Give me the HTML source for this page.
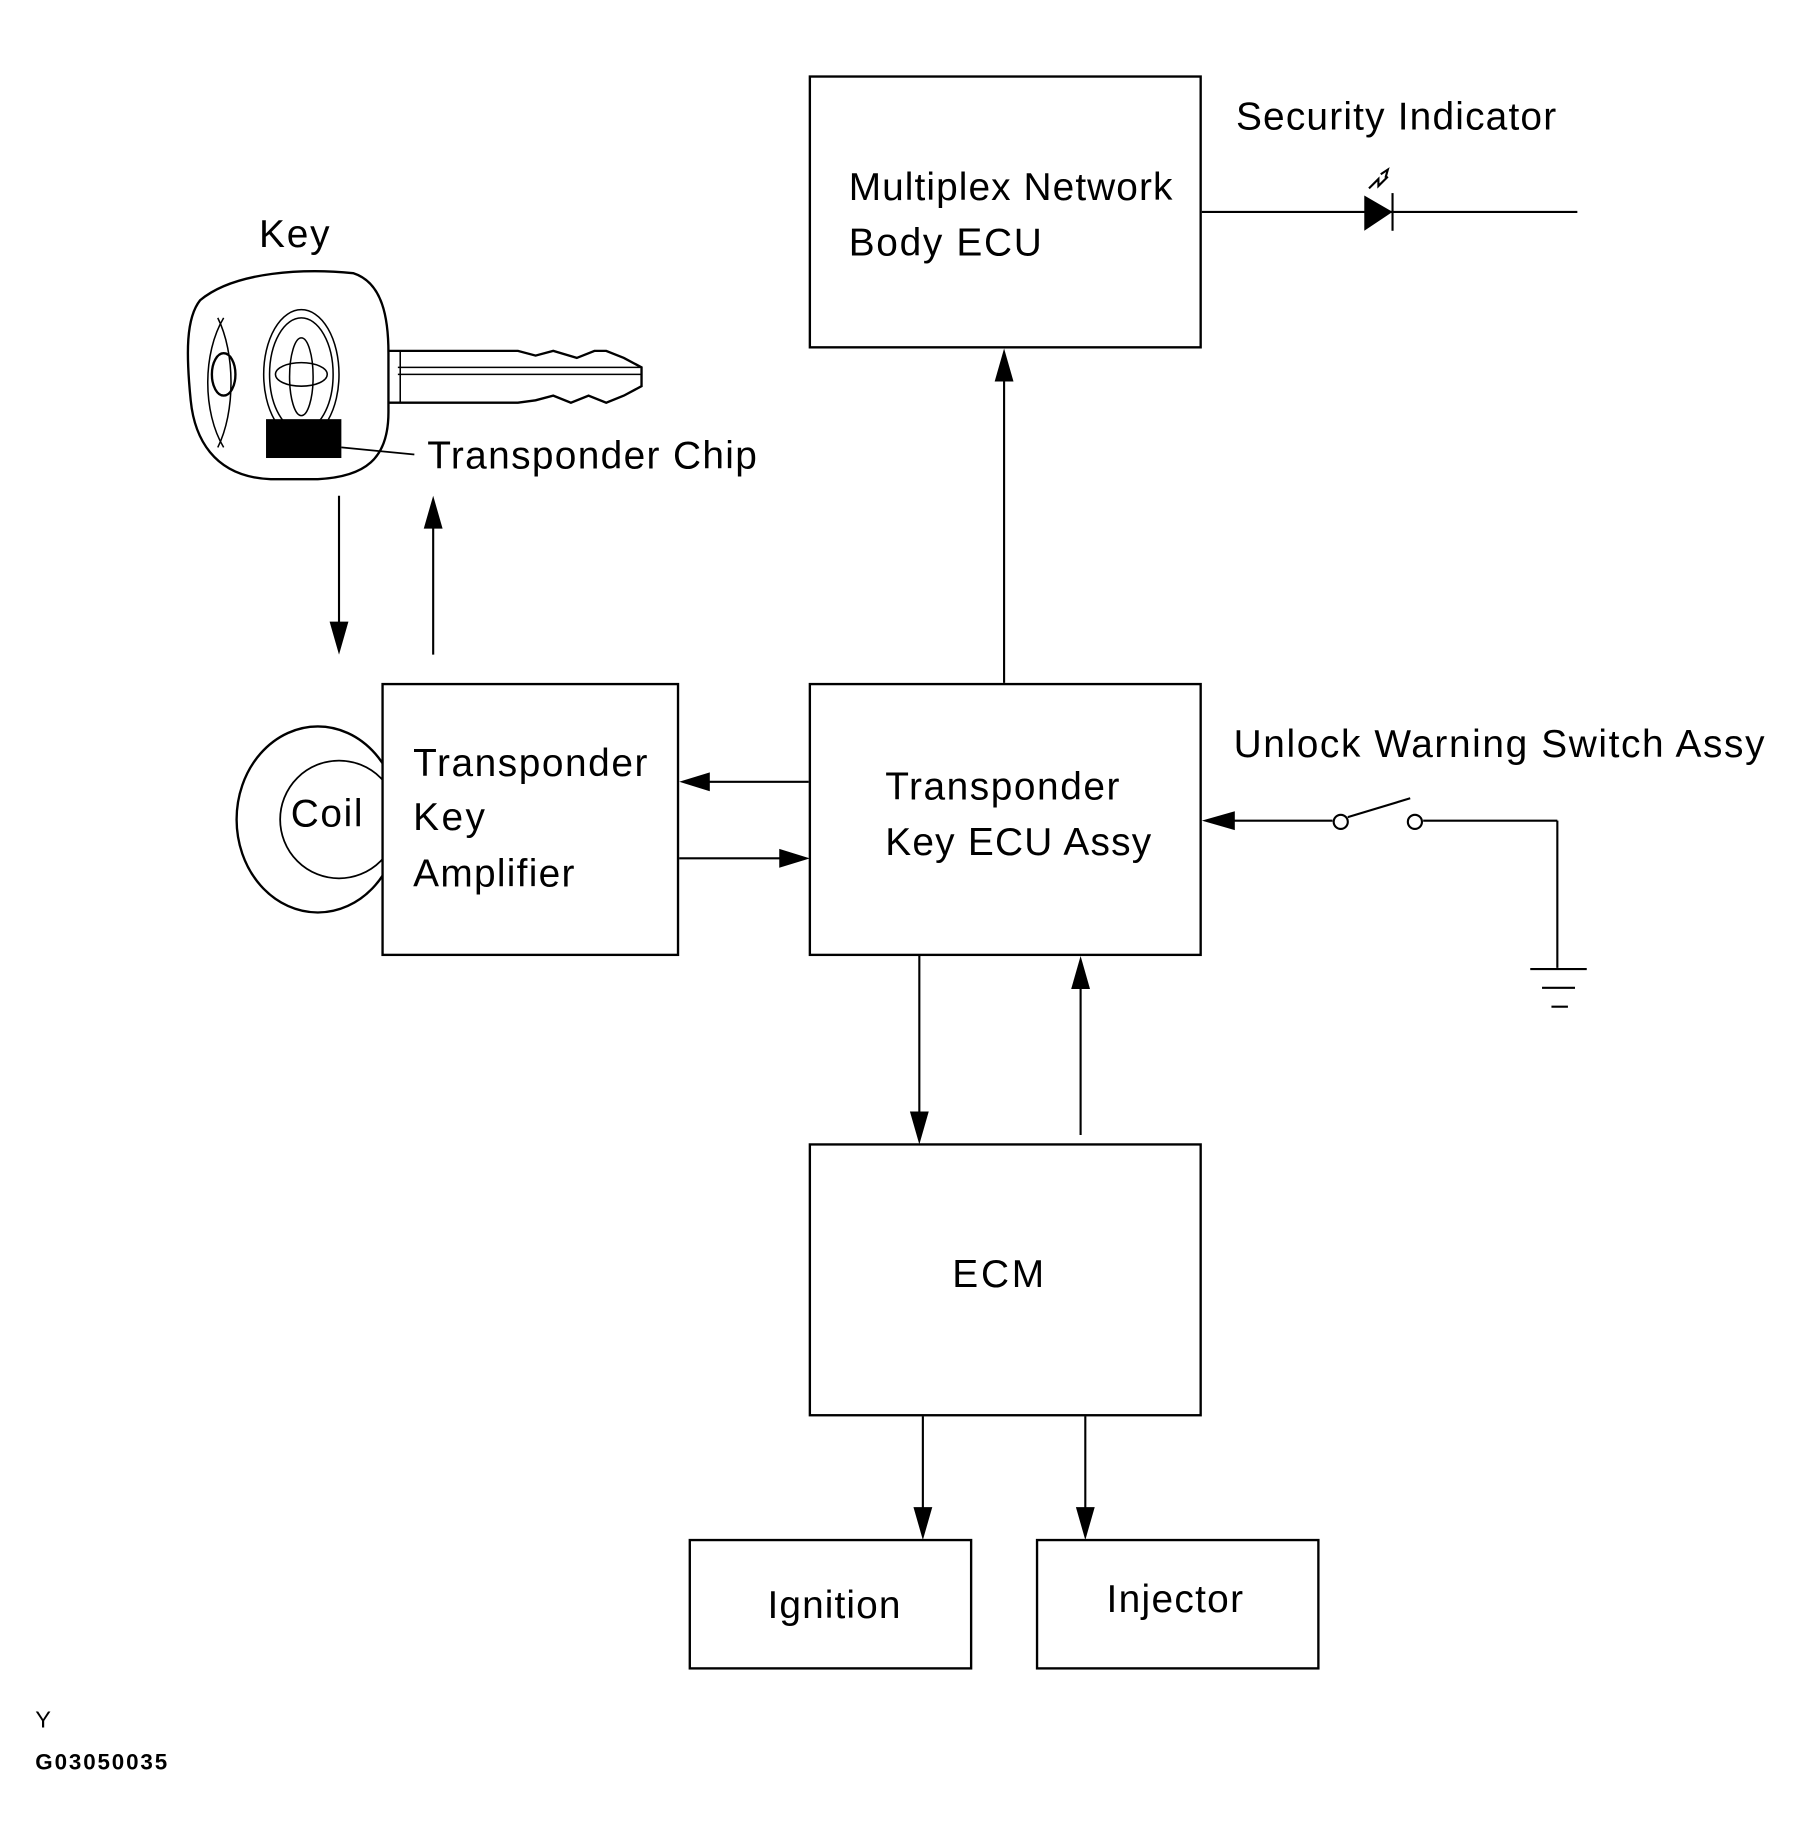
<!DOCTYPE html>
<html><head><meta charset="utf-8"><style>
html,body{margin:0;padding:0;background:#fff;}
svg{display:block;}
text{font-family:"Liberation Sans",Arial,sans-serif;fill:#000;}
</style></head><body>
<svg width="1801" height="1845" viewBox="0 0 1530 1567" preserveAspectRatio="none" xmlns="http://www.w3.org/2000/svg">
<!-- coil (drawn before box so box covers it) -->
<g fill="none" stroke="#000" stroke-width="2">
<ellipse cx="270" cy="696" rx="69" ry="79"/>
<ellipse cx="288" cy="696" rx="50" ry="50" stroke-width="1.5"/>
</g>
<g fill="#fff" stroke="#000" stroke-width="2">
<rect x="688" y="65" width="332" height="230"/>
<rect x="688" y="581" width="332" height="230"/>
<rect x="688" y="972" width="332" height="230"/>
<rect x="325" y="581" width="251" height="230"/>
<rect x="586" y="1308" width="239" height="109"/>
<rect x="881" y="1308" width="239" height="109"/>
</g>
<g stroke="#000" stroke-width="1.8" fill="none">
<line x1="853" y1="580" x2="853" y2="320"/>
<line x1="687" y1="664" x2="600" y2="664"/>
<line x1="577" y1="729" x2="665" y2="729"/>
<line x1="781" y1="812" x2="781" y2="948"/>
<line x1="918" y1="964" x2="918" y2="836"/>
<line x1="784" y1="1203" x2="784" y2="1284"/>
<line x1="922" y1="1203" x2="922" y2="1284"/>
<line x1="288" y1="421" x2="288" y2="532"/>
<line x1="368" y1="556" x2="368" y2="445"/>
<line x1="1021" y1="180" x2="1340" y2="180"/>
<line x1="1046" y1="697" x2="1132" y2="697"/>
<line x1="1145" y1="694" x2="1198" y2="678"/>
<line x1="1209" y1="697" x2="1323" y2="697"/>
<line x1="1323" y1="697" x2="1323" y2="822"/>
<line x1="1300" y1="823" x2="1348" y2="823"/>
<line x1="1310" y1="839" x2="1338" y2="839"/>
<line x1="1318" y1="855" x2="1332" y2="855"/>
<line x1="1183" y1="164" x2="1183" y2="196"/>
<circle cx="1139" cy="698" r="6" fill="#fff"/>
<circle cx="1202" cy="698" r="6" fill="#fff"/>
<path d="M1163,160 l8,-8 l0,6 l8,-8 M1173,148 l6,-4 l-2,7"/>
</g>
<g fill="#000">
<polygon points="853,296 845,324 861,324"/>
<polygon points="577,664 603,656 603,672"/>
<polygon points="688,729 662,721 662,737"/>
<polygon points="781,972 773,944 789,944"/>
<polygon points="918,812 910,840 926,840"/>
<polygon points="784,1308 776,1280 792,1280"/>
<polygon points="922,1308 914,1280 930,1280"/>
<polygon points="288,556 280,528 296,528"/>
<polygon points="368,421 360,449 376,449"/>
<polygon points="1021,697 1049,689 1049,705"/>
<polygon points="1159,166 1159,196 1183,180"/>
</g>
<!-- key -->
<g fill="none" stroke="#000" stroke-width="2">
<path d="M170,255 C200,230 260,228 300,232 C325,240 330,270 330,300 L330,350 C330,390 310,405 270,407 L230,407 C180,405 165,370 162,340 C158,300 158,270 170,255 Z"/>
<path d="M190,270 C172,300 172,350 190,380" stroke-width="1.3"/>
<path d="M185,270 C200,300 200,350 185,380" stroke-width="1.3"/>
<ellipse cx="190" cy="318" rx="10" ry="18"/>
<ellipse cx="256" cy="318" rx="32" ry="55" stroke-width="1.3"/>
<ellipse cx="256" cy="318" rx="27" ry="48" stroke-width="1.3"/>
<ellipse cx="256" cy="318" rx="22" ry="10" stroke-width="1.3"/>
<ellipse cx="256" cy="320" rx="10" ry="33" stroke-width="1.3"/>
<path d="M330,298 L440,298 L455,302 L470,298 L490,304 L505,298 L515,298 L530,304 L545,312 L545,328 L530,336 L515,342 L500,336 L485,342 L470,336 L455,340 L440,342 L330,342"/>
<line x1="338" y1="312" x2="545" y2="312" stroke-width="1.3"/>
<line x1="338" y1="318" x2="545" y2="318" stroke-width="1.3"/>
<line x1="340" y1="298" x2="340" y2="342" stroke-width="1.3"/>
<line x1="290" y1="380" x2="352" y2="386" stroke-width="1.5"/>
</g>
<rect x="226" y="356" width="64" height="33" fill="#000"/>
<g font-size="33">
<text x="220" y="210" textLength="60">Key</text>
<text x="363" y="398" textLength="280">Transponder Chip</text>
<text x="721" y="170" textLength="275">Multiplex Network</text>
<text x="721" y="217" textLength="164">Body ECU</text>
<text x="1050" y="110" textLength="272">Security Indicator</text>
<text x="1048" y="643" textLength="451">Unlock Warning Switch Assy</text>
<text x="351" y="659" textLength="199">Transponder</text>
<text x="351" y="705" textLength="61">Key</text>
<text x="351" y="753" textLength="137">Amplifier</text>
<text x="247" y="702" textLength="61">Coil</text>
<text x="752" y="679" textLength="199">Transponder</text>
<text x="752" y="726" textLength="226">Key ECU Assy</text>
<text x="809" y="1093" textLength="78">ECM</text>
<text x="652" y="1374" textLength="113">Ignition</text>
<text x="940" y="1369" textLength="116">Injector</text>
</g>
<text x="30" y="1467" font-size="20">Y</text>
<text x="30" y="1503" font-size="19" font-weight="bold" textLength="112">G03050035</text>
</svg>
</body></html>
